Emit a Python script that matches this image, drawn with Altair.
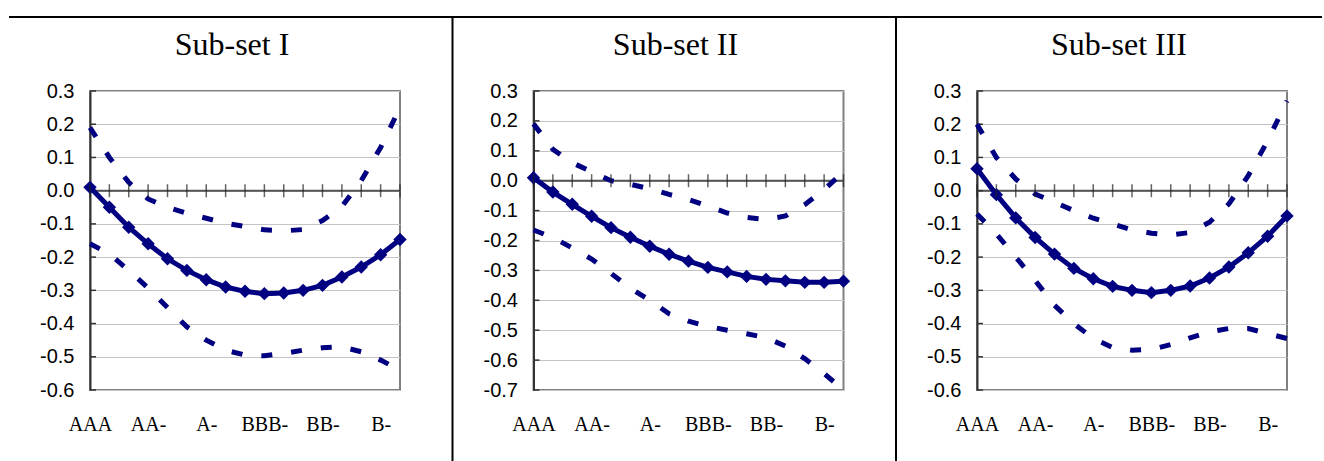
import altair as alt
import pandas as pd

# ---------------- data ----------------
categories = ["AAA", "AA+", "AA", "AA-", "A+", "A", "A-", "BBB+", "BBB", "BBB-",
              "BB+", "BB", "BB-", "B+", "B", "B-", "CCC"]
label_cats = ["AAA", "AA-", "A-", "BBB-", "BB-", "B-"]
titles = ["Sub-set I", "Sub-set II", "Sub-set III"]

mid_1 = [0.01, -0.05, -0.11, -0.16, -0.205, -0.24, -0.268, -0.29, -0.303, -0.31,
         -0.308, -0.30, -0.285, -0.26, -0.23, -0.193, -0.147]
up_1 = [0.19, 0.10, 0.025, -0.025, -0.05, -0.068, -0.083, -0.098, -0.108, -0.118,
        -0.121, -0.117, -0.09, -0.048, 0.03, 0.13, 0.25]
lo_1 = [-0.16, -0.19, -0.24, -0.293, -0.352, -0.41, -0.45, -0.48, -0.495, -0.497,
        -0.49, -0.48, -0.473, -0.47, -0.485, -0.51, -0.54]

mid_2 = [0.01, -0.038, -0.079, -0.119, -0.157, -0.189, -0.219, -0.246, -0.269, -0.29,
         -0.305, -0.32, -0.33, -0.335, -0.34, -0.34, -0.336]
up_2 = [0.19, 0.105, 0.06, 0.03, 0.0, -0.012, -0.027, -0.046, -0.063, -0.085,
        -0.108, -0.123, -0.13, -0.118, -0.08, -0.03, 0.03]
lo_2 = [-0.165, -0.19, -0.225, -0.262, -0.31, -0.36, -0.40, -0.445, -0.47, -0.487,
        -0.50, -0.512, -0.525, -0.553, -0.595, -0.645, -0.70]

mid_3 = [0.066, -0.012, -0.082, -0.141, -0.191, -0.234, -0.265, -0.288, -0.30, -0.307,
         -0.30, -0.287, -0.263, -0.23, -0.187, -0.137, -0.076]
up_3 = [0.20, 0.10, 0.035, -0.01, -0.035, -0.06, -0.083, -0.10, -0.118, -0.128,
        -0.133, -0.126, -0.095, -0.04, 0.045, 0.15, 0.27]
lo_3 = [-0.07, -0.13, -0.20, -0.27, -0.345, -0.40, -0.445, -0.472, -0.48, -0.478,
        -0.463, -0.443, -0.425, -0.415, -0.415, -0.43, -0.445]

y_ticks_1 = [0.3, 0.2, 0.1, 0.0, -0.1, -0.2, -0.3, -0.4, -0.5, -0.6]
y_ticks_2 = [0.3, 0.2, 0.1, 0.0, -0.1, -0.2, -0.3, -0.4, -0.5, -0.6, -0.7]
y_ticks_3 = [0.3, 0.2, 0.1, 0.0, -0.1, -0.2, -0.3, -0.4, -0.5, -0.6]

# ---------------- style ----------------
NAVY = "#000080"
W, H = 310, 299
SPACING = 133.5


def panel(idx, mid, up, lo, yticks):
    n = len(categories)
    df = pd.DataFrame({
        "cat": categories * 3,
        "val": mid + up + lo,
        "series": ["mid"] * n + ["up"] * n + ["lo"] * n,
    })
    ydom = [min(yticks), max(yticks)]
    x_enc = alt.X(
        "cat:O", sort=categories,
        scale=alt.Scale(type="point", padding=0),
        axis=alt.Axis(values=label_cats, title=None, domain=False, ticks=False, tickSize=0,
                      grid=False, labelAngle=0, labelPadding=40, labelBaseline="alphabetic",
                      labelFont="Liberation Serif", labelFontSize=20, labelColor="black",
                      labelOverlap=False),
    )
    y_enc = alt.Y(
        "val:Q",
        scale=alt.Scale(domain=ydom, nice=False, zero=False),
        axis=alt.Axis(values=yticks, title=None, domain=True, domainColor="#333333",
                      domainWidth=2, ticks=False, tickSize=0, labelPadding=16,
                      labelFont="Liberation Sans", labelFontSize=20, labelColor="black",
                      labelBaseline="middle", grid=True, gridColor="#c4c4c4", gridWidth=1,
                      labelOverlap=False,
                      labelExpr="(datum.value < -0.00001 ? '-' : '') + format(abs(datum.value), '.1f')"),
    )

    zero_df = pd.DataFrame({"val": [0.0]})
    tick_df = pd.DataFrame({"cat": categories, "val": [0.0] * n})
    ytick_df = pd.DataFrame({"val": yticks})

    zero_line = alt.Chart(zero_df).mark_rule(color="#555555", strokeWidth=2).encode(
        y=y_enc, x=alt.value(0), x2=alt.value(W))
    xticks = alt.Chart(tick_df).mark_tick(orient="vertical", size=13, thickness=1.5,
                                         color="#222222").encode(x=x_enc, y=y_enc)
    yinner = alt.Chart(ytick_df).mark_rule(color="#333333", strokeWidth=1.5).encode(
        y=y_enc, x=alt.value(0), x2=alt.value(6))
    dashed = alt.Chart(df[df.series != "mid"]).mark_line(
        color=NAVY, strokeWidth=5, strokeDash=[11, 19]).encode(
        x=x_enc, y=y_enc, detail="series:N")
    solid = alt.Chart(df[df.series == "mid"]).mark_line(color=NAVY, strokeWidth=5).encode(
        x=x_enc, y=y_enc)
    pts = alt.Chart(df[df.series == "mid"]).mark_point(
        shape="diamond", size=180, filled=True, color=NAVY, opacity=1).encode(x=x_enc, y=y_enc)
    title = alt.Chart(pd.DataFrame({"t": [titles[idx]]})).mark_text(
        font="Liberation Serif", fontSize=32, align="center", baseline="alphabetic",
        color="black").encode(x=alt.value(W / 2 - 13), y=alt.value(-36), text="t:N")

    layers = [zero_line, yinner, dashed, solid, pts, xticks, title]

    # table borders
    if idx == 0:
        top = alt.Chart(pd.DataFrame({"a": [0]})).mark_rule(color="black", strokeWidth=2).encode(
            x=alt.value(-81), x2=alt.value(1232), y=alt.value(-74))
        layers.append(top)
    else:
        vline = alt.Chart(pd.DataFrame({"a": [0]})).mark_rule(color="black", strokeWidth=2).encode(
            x=alt.value(-81), y=alt.value(-75), y2=alt.value(370))
        layers.append(vline)

    return alt.layer(*layers).properties(width=W, height=H)


p1 = panel(0, mid_1, up_1, lo_1, y_ticks_1)
p2 = panel(1, mid_2, up_2, lo_2, y_ticks_2)
p3 = panel(2, mid_3, up_3, lo_3, y_ticks_3)

chart = alt.hconcat(p1, p2, p3, spacing=SPACING, bounds="flush").properties(
    padding={"left": 7, "top": 14, "right": 0, "bottom": 0},
    background="white",
).configure_view(stroke="#808080", strokeWidth=2)

chart.save("out.html", embed_options={"renderer": "svg", "actions": False})
